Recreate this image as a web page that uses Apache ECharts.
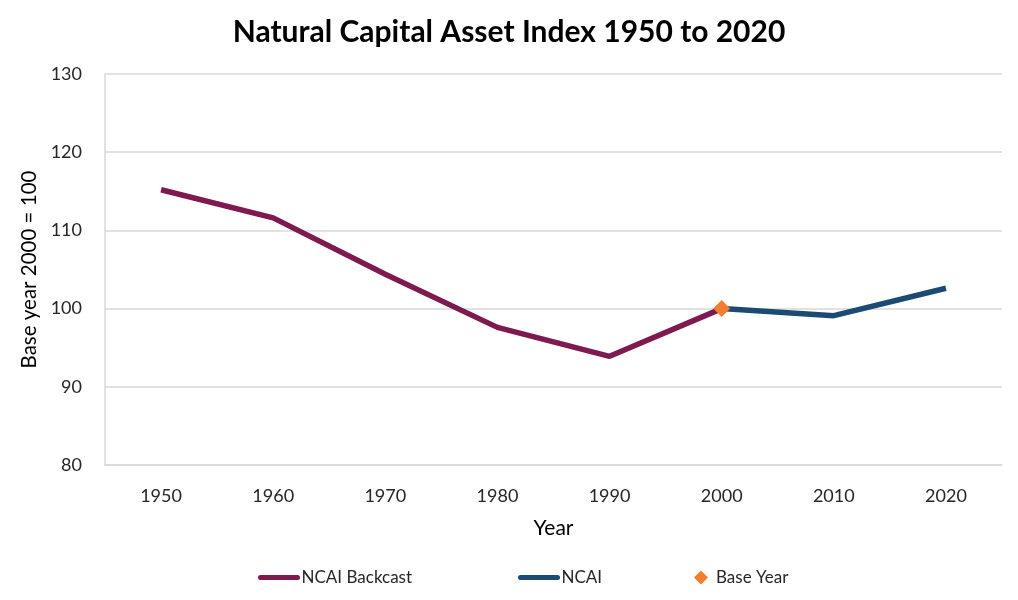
<!DOCTYPE html>
<html>
<head>
<meta charset="utf-8">
<script src="https://cdn.jsdelivr.net/npm/echarts@6/dist/echarts.min.js"></script>
<style>html,body{margin:0;padding:0;background:#fff}#c{width:1018px;height:600px}</style>
</head>
<body>
<div id="c"></div>
<script>
var years = ['1950','1960','1970','1980','1990','2000','2010','2020'];
var backcast = [115.2, 111.6, 104.4, 97.6, 93.9, 100.0, null, null];
var ncai = [null, null, null, null, null, 100.0, 99.1, 102.6];
var baseYear = [null, null, null, null, null, 100.0, null, null];
var yTicks = [80, 90, 100, 110, 120, 130];

var FONT = 'Lato, "Open Sans", sans-serif';
var PILL = 'path://M2.5,0 H39.5 A2.5,2.5 0 0 1 39.5,5 H2.5 A2.5,2.5 0 0 1 2.5,0 Z';
var chart = echarts.init(document.getElementById('c'));
chart.setOption({
  animation: false,
  backgroundColor: '#fff',
  textStyle: {fontFamily: FONT},
  title: {
    text: 'Natural Capital Asset Index 1950 to 2020',
    left: 'center', top: 12,
    textStyle: {fontFamily: FONT, fontSize: 30, fontWeight: 'bold', color: '#000'}
  },
  legend: [
    {data: [{name: 'NCAI Backcast', icon: PILL}], left: 253, top: 564, itemWidth: 43, itemHeight: 5,
     textStyle: {fontSize: 17, color: '#262626', fontFamily: FONT, padding: [0,0,0,-4]}},
    {data: [{name: 'NCAI', icon: PILL}], left: 513, top: 564, itemWidth: 43, itemHeight: 5,
     textStyle: {fontSize: 17, color: '#262626', fontFamily: FONT, padding: [0,0,0,-4]}},
    {data: [{name: 'Base Year', icon: 'diamond'}], left: 689, top: 564, itemWidth: 14, itemHeight: 14,
     textStyle: {fontSize: 17, color: '#262626', fontFamily: FONT, padding: [0,0,0,3]}}
  ],
  grid: {left: 105, right: 16, top: 74, bottom: 135},
  xAxis: {
    type: 'category', data: years, boundaryGap: true,
    name: 'Year', nameLocation: 'middle', nameGap: 53,
    nameTextStyle: {fontSize: 21, color: '#000', fontFamily: FONT},
    axisLine: {lineStyle: {color: '#d9d9d9', width: 1.5}},
    axisTick: {alignWithLabel: true, length: 5, lineStyle: {color: '#d9d9d9'}},
    axisLabel: {fontSize: 18, color: '#262626', margin: 22, fontFamily: FONT}
  },
  yAxis: {
    type: 'value', min: yTicks[0], max: yTicks[yTicks.length-1], interval: 10,
    name: 'Base year 2000 = 100', nameLocation: 'middle', nameGap: 63,
    nameTextStyle: {fontSize: 20.5, color: '#000', fontFamily: FONT},
    axisLine: {show: true, lineStyle: {color: '#d9d9d9', width: 1.5}},
    axisTick: {show: false},
    axisLabel: {fontSize: 18, color: '#262626', margin: 23, fontFamily: FONT},
    splitLine: {lineStyle: {color: '#d9d9d9', width: 1.5}}
  },
  series: [
    {name: 'NCAI Backcast', type: 'line', data: backcast, symbol: 'none',
     lineStyle: {color: '#7E1A4F', width: 5.5}, itemStyle: {color: '#7E1A4F'}, z: 2},
    {name: 'NCAI', type: 'line', data: ncai, symbol: 'none',
     lineStyle: {color: '#1B4A72', width: 5.5}, itemStyle: {color: '#1B4A72'}, z: 3},
    {name: 'Base Year', type: 'line', data: baseYear, symbol: 'diamond', symbolSize: 17,
     showAllSymbol: true, lineStyle: {width: 0, opacity: 0},
     itemStyle: {color: '#F47C30'}, z: 4}
  ]
});
</script>
</body>
</html>
